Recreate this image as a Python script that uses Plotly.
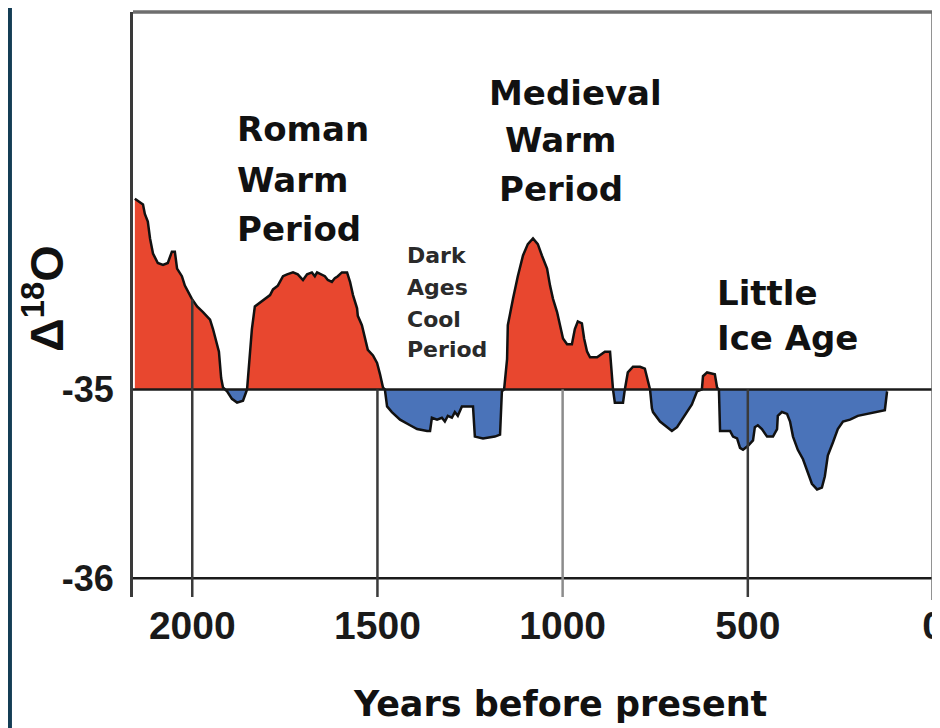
import numpy as np
import plotly.graph_objects as go

# ---- data (years before present, delta 18O) ----
years = [2155, 2133, 2128, 2120, 2114, 2106, 2093, 2079, 2066, 2055, 2047, 2041, 2028, 2020,
         2001, 1987, 1971, 1952, 1944, 1933, 1928, 1922, 1917, 1906, 1893, 1879, 1863, 1852,
         1844, 1839, 1831, 1809, 1790, 1782, 1769, 1755, 1744, 1728, 1715, 1701, 1690, 1677,
         1669, 1663, 1650, 1642, 1634, 1623, 1615, 1607, 1596, 1582, 1574, 1566, 1555, 1553,
         1542, 1534, 1526, 1512, 1501, 1493, 1485, 1480, 1474, 1461, 1439, 1412, 1393, 1366,
         1358, 1353, 1339, 1326, 1318, 1310, 1299, 1291, 1283, 1272, 1250, 1242, 1237, 1215,
         1183, 1169, 1164, 1158, 1150, 1148, 1134, 1121, 1107, 1094, 1080, 1067, 1056, 1042,
         1034, 1026, 1015, 1007, 999, 988, 975, 967, 959, 948, 942, 934, 926, 907, 899, 886,
         872, 867, 864, 859, 848, 837, 832, 824, 810, 791, 778, 770, 764, 759, 756, 737, 718,
         705, 691, 670, 651, 637, 624, 621, 610, 589, 583, 578, 575, 548, 540, 529, 521, 513,
         500, 486, 481, 473, 462, 448, 432, 421, 419, 408, 394, 386, 378, 365, 351, 338, 327,
         313, 300, 292, 284, 270, 257, 243, 224, 203, 178, 151, 130, 124]
d18o = [-33.99, -34.02, -34.07, -34.11, -34.20, -34.28, -34.33, -34.34, -34.33, -34.27, -34.27,
        -34.36, -34.40, -34.45, -34.52, -34.56, -34.59, -34.63, -34.68, -34.77, -34.80, -34.94,
        -34.99, -35.01, -35.05, -35.07, -35.06, -35.00, -34.82, -34.68, -34.56, -34.53, -34.50,
        -34.47, -34.45, -34.40, -34.39, -34.38, -34.39, -34.42, -34.39, -34.38, -34.40, -34.38,
        -34.39, -34.40, -34.42, -34.43, -34.41, -34.40, -34.38, -34.38, -34.43, -34.50, -34.57,
        -34.61, -34.66, -34.72, -34.79, -34.82, -34.86, -34.92, -34.99, -35.00, -35.09, -35.12,
        -35.16, -35.19, -35.21, -35.22, -35.22, -35.15, -35.16, -35.15, -35.17, -35.14, -35.15,
        -35.12, -35.14, -35.09, -35.09, -35.09, -35.25, -35.26, -35.25, -35.24, -35.01, -35.00,
        -34.84, -34.66, -34.52, -34.40, -34.29, -34.23, -34.20, -34.23, -34.29, -34.36, -34.45,
        -34.52, -34.59, -34.66, -34.73, -34.76, -34.76, -34.68, -34.64, -34.65, -34.73, -34.80,
        -34.83, -34.83, -34.82, -34.80, -34.80, -34.94, -35.00, -35.07, -35.07, -35.07, -35.00,
        -34.91, -34.88, -34.88, -34.89, -34.96, -35.00, -35.10, -35.12, -35.17, -35.20, -35.22,
        -35.20, -35.14, -35.08, -35.01, -35.00, -34.93, -34.91, -34.92, -34.99, -35.00, -35.22,
        -35.22, -35.25, -35.26, -35.31, -35.32, -35.30, -35.27, -35.20, -35.19, -35.21, -35.25,
        -35.25, -35.21, -35.14, -35.12, -35.13, -35.17, -35.25, -35.32, -35.37, -35.44, -35.50,
        -35.53, -35.52, -35.46, -35.35, -35.28, -35.21, -35.17, -35.16, -35.14, -35.13, -35.12,
        -35.11, -35.01]

baseline = -35.0
x_tick_vals = [2000, 1500, 1000, 500, 0]
x_tick_text = ["2000", "1500", "1000", "500", "0"]
y_tick_vals = [-35, -36]
y_tick_text = ["-35", "-36"]
x_grid = [2000, 1500, 1000, 500]
x_grid_colors = ["#3a3a3a", "#3a3a3a", "#8c8c8c", "#3a3a3a"]
grid_through_fill = [2000]
x_range = [2160, 0]
y_range = [-36.1, -33.0]

RED = "#E8472F"
BLUE = "#4A73B9"
BG_DARK = "#143D55"

vals = np.array(d18o)
yrs = np.array(years)
base = np.full(len(yrs), baseline)

fig = go.Figure()
fig.add_trace(go.Scatter(x=yrs, y=base, mode="lines", line=dict(width=0),
                         hoverinfo="skip", showlegend=False))
fig.add_trace(go.Scatter(x=yrs, y=np.maximum(vals, baseline), mode="lines",
                         line=dict(width=0), fill="tonexty", fillcolor=RED,
                         hoverinfo="skip", showlegend=False))
fig.add_trace(go.Scatter(x=yrs, y=base, mode="lines", line=dict(width=0),
                         hoverinfo="skip", showlegend=False))
fig.add_trace(go.Scatter(x=yrs, y=np.minimum(vals, baseline), mode="lines",
                         line=dict(width=0), fill="tonexty", fillcolor=BLUE,
                         hoverinfo="skip", showlegend=False))
fig.add_trace(go.Scatter(x=yrs, y=vals, mode="lines",
                         line=dict(color="#111111", width=2.5),
                         hoverinfo="skip", showlegend=False))

shapes = []
# white page over dark background frame
shapes.append(dict(type="rect", xref="paper", yref="paper",
                   x0=-0.1513, x1=1.02, y0=-0.25, y1=1.05,
                   fillcolor="white", line=dict(width=0), layer="below"))
# horizontal reference lines
for v in y_tick_vals:
    shapes.append(dict(type="line", xref="paper", yref="y", x0=0, x1=1, y0=v, y1=v,
                       line=dict(color="#1a1a1a", width=2.5), layer="above"))
# vertical grid lines
order = np.argsort(yrs)
for gy, gc in zip(x_grid, x_grid_colors):
    top = float(np.interp(gy, yrs[order], vals[order])) if gy in grid_through_fill else baseline
    shapes.append(dict(type="line", xref="x", yref="y", x0=gy, x1=gy,
                       y0=y_range[0], y1=top,
                       line=dict(color=gc, width=2.5), layer="above"))
# frame: top and right borders
shapes.append(dict(type="line", xref="paper", yref="paper", x0=0, x1=1, y0=1, y1=1,
                   line=dict(color="#6e6e6e", width=3.5)))
shapes.append(dict(type="line", xref="paper", yref="paper", x0=1, x1=1, y0=-0.005, y1=1,
                   line=dict(color="#6e6e6e", width=3.5)))

big = dict(family="DejaVu Sans", size=34, color="#111111", weight="bold")
small = dict(family="DejaVu Sans", size=22, color="#2a2a2a", weight="bold")

annotations = []
def label(text, x, y, font, xanchor="left"):
    annotations.append(dict(text=text, x=x, y=y, xref="x", yref="y", showarrow=False,
                            xanchor=xanchor, yanchor="middle", font=font))

label("Roman", 1885, -33.62, big)
label("Warm", 1885, -33.89, big)
label("Period", 1885, -34.15, big)
label("Medieval", 964, -33.43, big, "center")
label("Warm", 1007, -33.68, big, "center")
label("Period", 1004, -33.94, big, "center")
label("Little", 589, -34.49, big)
label("Ice Age", 589, -34.73, big)
label("Dark", 1426, -34.29, small)
label("Ages", 1426, -34.46, small)
label("Cool", 1426, -34.63, small)
label("Period", 1426, -34.79, small)

# axis titles
annotations.append(dict(text="Δ<sup>18</sup>O", xref="paper", yref="paper", x=-0.112, y=0.51,
                        textangle=-90, showarrow=False, xanchor="center", yanchor="middle",
                        font=dict(family="Liberation Sans", size=47, color="#111111", weight="bold")))
annotations.append(dict(text="Years before present", xref="paper", yref="paper",
                        x=0.534, y=-0.183, showarrow=False, xanchor="center", yanchor="middle",
                        font=dict(family="DejaVu Sans", size=35, color="#111111", weight="bold")))

# the page body adds an 8px offset, so the figure is sized to end at the window edge
fig.update_layout(
    width=932, height=720, autosize=False,
    margin=dict(l=125, r=7, t=4, b=131, autoexpand=False),
    paper_bgcolor=BG_DARK, plot_bgcolor="rgba(0,0,0,0)",
    shapes=shapes, annotations=annotations, showlegend=False,
    xaxis=dict(range=x_range, tickvals=x_tick_vals, ticktext=x_tick_text,
               showgrid=False, zeroline=False, showline=False, ticks="",
               automargin=False, ticklabelstandoff=2, ticklabeloverflow="allow",
               tickfont=dict(family="Liberation Sans", size=39, color="#1a1a1a", weight="bold")),
    yaxis=dict(range=y_range, tickvals=y_tick_vals, ticktext=y_tick_text,
               showgrid=False, zeroline=False, showline=True, linecolor="#3a3a3a",
               linewidth=3, ticks="", ticklabelstandoff=9, automargin=False,
               tickfont=dict(family="Liberation Sans", size=36, color="#1a1a1a", weight="bold")),
)

fig.write_html("out.html")
